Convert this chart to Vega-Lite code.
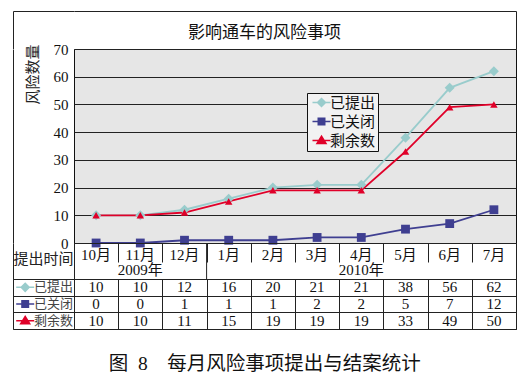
{
  "$schema": "https://vega.github.io/schema/vega-lite/v6.json",
  "padding": {"left": 12, "top": 11, "right": 5, "bottom": 5},
  "datasets": {
    "d": [
      {"month": "10月", "series": "已提出", "value": 10},
      {"month": "11月", "series": "已提出", "value": 10},
      {"month": "12月", "series": "已提出", "value": 12},
      {"month": "1月", "series": "已提出", "value": 16},
      {"month": "2月", "series": "已提出", "value": 20},
      {"month": "3月", "series": "已提出", "value": 21},
      {"month": "4月", "series": "已提出", "value": 21},
      {"month": "5月", "series": "已提出", "value": 38},
      {"month": "6月", "series": "已提出", "value": 56},
      {"month": "7月", "series": "已提出", "value": 62},
      {"month": "10月", "series": "已关闭", "value": 0},
      {"month": "11月", "series": "已关闭", "value": 0},
      {"month": "12月", "series": "已关闭", "value": 1},
      {"month": "1月", "series": "已关闭", "value": 1},
      {"month": "2月", "series": "已关闭", "value": 1},
      {"month": "3月", "series": "已关闭", "value": 2},
      {"month": "4月", "series": "已关闭", "value": 2},
      {"month": "5月", "series": "已关闭", "value": 5},
      {"month": "6月", "series": "已关闭", "value": 7},
      {"month": "7月", "series": "已关闭", "value": 12},
      {"month": "10月", "series": "剩余数", "value": 10},
      {"month": "11月", "series": "剩余数", "value": 10},
      {"month": "12月", "series": "剩余数", "value": 11},
      {"month": "1月", "series": "剩余数", "value": 15},
      {"month": "2月", "series": "剩余数", "value": 19},
      {"month": "3月", "series": "剩余数", "value": 19},
      {"month": "4月", "series": "剩余数", "value": 19},
      {"month": "5月", "series": "剩余数", "value": 33},
      {"month": "6月", "series": "剩余数", "value": 49},
      {"month": "7月", "series": "剩余数", "value": 50}
    ],
    "months": [
      {"month": "10月"}, {"month": "11月"}, {"month": "12月"}, {"month": "1月"}, {"month": "2月"},
      {"month": "3月"}, {"month": "4月"}, {"month": "5月"}, {"month": "6月"}, {"month": "7月"}
    ],
    "years": [
      {"month": "11月", "year": "2009年"},
      {"month": "4月", "year": "2010年"}
    ]
  },
  "title": {
    "text": "图\u20028\u3000每月风险事项提出与结案统计",
    "orient": "bottom",
    "anchor": "middle",
    "fontSize": 19.5,
    "fontWeight": "normal",
    "color": "#111",
    "offset": 25
  },
  "spacing": 0,
  "bounds": "flush",
  "columns": 2,
  "concat": [
    {
      "width": 61,
      "height": 37.5,
      "data": {"values": [{"t": "a"}]},
      "mark": {"type": "point", "opacity": 0},
      "encoding": {
        "x": {"field": "t", "type": "nominal", "axis": {"orient": "top", "domain": true, "domainColor": "#222", "labels": false, "ticks": false, "grid": false, "title": null}},
        "y": {"field": "t", "type": "nominal", "axis": {"orient": "left", "domain": true, "domainColor": "#222", "labels": false, "ticks": false, "grid": false, "title": null}}
      }
    },
    {
      "width": 442,
      "height": 37.5,
      "data": {"values": [{"t": "影响通车的风险事项"}]},
      "mark": {"type": "text", "fontSize": 17, "dy": 3, "dx": -30.5, "color": "#111"},
      "encoding": {
        "text": {"field": "t"},
        "x": {"field": "t", "type": "nominal", "axis": {"orient": "top", "domain": true, "domainColor": "#222", "labels": false, "ticks": false, "grid": false, "title": null}},
        "y": {"field": "t", "type": "nominal", "axis": {"orient": "right", "domain": true, "domainColor": "#222", "labels": false, "ticks": false, "grid": false, "title": null}}
      }
    },
    {
      "width": 61,
      "height": 194,
      "data": {"values": [{"v": 0}]},
      "mark": {"type": "point", "opacity": 0},
      "encoding": {
        "y": {"field": "v", "type": "quantitative", "axis": {"domain": true, "domainColor": "#222", "labels": false, "ticks": false, "grid": false, "title": null}}
      }
    },
    {
      "width": 442,
      "height": 194,
      "view": {"fill": "#e6e6e6", "stroke": "#111"},
      "data": {"name": "d"},
      "encoding": {
        "x": {"field": "month", "type": "nominal", "scale": {"type": "point", "padding": 0.5, "domain": ["10月", "11月", "12月", "1月", "2月", "3月", "4月", "5月", "6月", "7月"]}, "axis": null},
        "y": {
          "field": "value", "type": "quantitative",
          "scale": {"domain": [0, 70], "nice": false},
          "axis": {
            "values": [0, 10, 20, 30, 40, 50, 60, 70],
            "grid": true, "gridColor": "#222", "gridWidth": 1,
            "domain": false, "ticks": false,
            "labelFontSize": 15, "labelColor": "#111", "labelPadding": 6,
            "title": "风险数量", "titleFontSize": 15, "titleFontWeight": "normal", "titleColor": "#222",
            "titleAnchor": "end", "titlePadding": 13, "titleY": -5
          }
        }
      },
      "layer": [
        {
          "mark": {"type": "line", "strokeWidth": 1.8},
          "encoding": {
            "color": {"field": "series", "type": "nominal", "scale": {"domain": ["已提出", "已关闭", "剩余数"], "range": ["#99cccc", "#3f3f91", "#e00029"]}, "legend": null}
          }
        },
        {
          "mark": {"type": "point", "filled": true, "opacity": 1},
          "encoding": {
            "color": {"field": "series", "type": "nominal", "scale": {"domain": ["已提出", "已关闭", "剩余数"], "range": ["#99cccc", "#3f3f91", "#e00029"]}, "legend": null},
            "shape": {"field": "series", "type": "nominal", "scale": {"domain": ["已提出", "已关闭", "剩余数"], "range": ["diamond", "square", "triangle-up"]}, "legend": null},
            "size": {"field": "series", "type": "nominal", "scale": {"domain": ["已提出", "已关闭", "剩余数"], "range": [100, 56, 90]}, "legend": null}
          }
        },
        {
          "transform": [{"filter": "datum.value < 0"}],
          "mark": {"type": "point", "filled": true, "strokeWidth": 1.5, "opacity": 1},
          "encoding": {
            "color": {
              "field": "series", "type": "nominal",
              "scale": {"domain": ["已提出", "已关闭", "剩余数"], "range": ["#99cccc", "#3f3f91", "#e00029"]},
              "legend": {
                "orient": "none", "legendX": 233, "legendY": 44, "title": null,
                "padding": 2, "rowPadding": 3, "symbolSize": 100, "symbolOffset": 5, "labelOffset": 1,
                "labelFontSize": 15, "labelColor": "#111", "strokeColor": "#111", "fillColor": "#f2f2f2",
                "symbolStrokeWidth": 1.5
              }
            },
            "stroke": {"field": "series", "type": "nominal", "scale": {"domain": ["已提出", "已关闭", "剩余数"], "range": ["#99cccc", "#3f3f91", "#e00029"]}},
            "shape": {"field": "series", "type": "nominal", "scale": {"domain": ["已提出", "已关闭", "剩余数"], "range": ["M-1.8,0H1.8M0,-0.8L0.8,0L0,0.8L-0.8,0Z", "M-1.8,0H1.8M-0.65,-0.65H0.65V0.65H-0.65Z", "M-1.8,0H1.8M0,-0.85L0.9,0.6H-0.9Z"]}}
          }
        }
      ],
      "resolve": {"scale": {"color": "independent", "shape": "independent", "stroke": "independent", "size": "independent"}}
    },
    {
      "width": 61,
      "height": 36,
      "data": {"values": [{"t": "提出时间"}]},
      "mark": {"type": "text", "fontSize": 15, "dy": -2, "color": "#222"},
      "encoding": {
        "text": {"field": "t"},
        "x": {"field": "t", "type": "nominal", "axis": {"orient": "bottom", "domain": true, "domainColor": "#222", "labels": false, "ticks": false, "grid": false, "title": null}},
        "y": {"field": "t", "type": "nominal", "axis": {"orient": "left", "domain": true, "domainColor": "#222", "labels": false, "ticks": false, "grid": false, "title": null}}
      }
    },
    {
      "width": 442,
      "height": 36,
      "view": {"stroke": "#222"},
      "encoding": {
        "x": {
          "field": "month", "type": "nominal",
          "scale": {"type": "band", "domain": ["10月", "11月", "12月", "1月", "2月", "3月", "4月", "5月", "6月", "7月"], "paddingInner": 0, "paddingOuter": 0},
          "axis": {"orient": "top", "labels": false, "domain": false, "ticks": true, "tickBand": "extent", "tickSize": -19, "tickColor": "#222", "grid": false, "title": null}
        }
      },
      "layer": [
        {
          "data": {"name": "months"},
          "mark": {"type": "text", "fontSize": 15, "dy": 3, "color": "#111"},
          "encoding": {
            "y": {"datum": "m", "type": "nominal", "scale": {"type": "band", "domain": ["m", "y"], "paddingInner": 0, "paddingOuter": 0}, "axis": null},
            "text": {"field": "month"}
          }
        },
        {
          "data": {"name": "years"},
          "mark": {"type": "text", "fontSize": 15, "color": "#111"},
          "encoding": {
            "y": {"datum": "y", "type": "nominal", "scale": {"type": "band", "domain": ["m", "y"], "paddingInner": 0, "paddingOuter": 0}, "axis": null},
            "text": {"field": "year"}
          }
        },
        {
          "data": {"values": [{"month": "1月"}]},
          "mark": {"type": "rule", "color": "#222"},
          "encoding": {
            "x": {"field": "month", "type": "nominal", "bandPosition": 0}
          }
        }
      ]
    },
    {
      "width": 61,
      "height": 50,
      "view": {"stroke": "#222"},
      "data": {"values": [{"series": "已提出"}, {"series": "已关闭"}, {"series": "剩余数"}]},
      "encoding": {
        "y": {
          "field": "series", "type": "nominal",
          "scale": {"type": "band", "domain": ["已提出", "已关闭", "剩余数"], "paddingInner": 0, "paddingOuter": 0},
          "axis": {"grid": true, "tickBand": "extent", "gridColor": "#222", "labels": false, "ticks": false, "domain": false, "title": null}
        }
      },
      "layer": [
        {
          "mark": {"type": "point", "filled": true, "strokeWidth": 1.5, "size": 100, "opacity": 1},
          "encoding": {
            "x": {"datum": "sym", "type": "nominal", "bandPosition": 0.4, "scale": {"type": "band", "domain": ["sym", "lab"], "paddingInner": 0, "paddingOuter": 0}, "axis": null},
            "color": {"field": "series", "type": "nominal", "scale": {"domain": ["已提出", "已关闭", "剩余数"], "range": ["#99cccc", "#3f3f91", "#e00029"]}, "legend": null},
            "stroke": {"field": "series", "type": "nominal", "scale": {"domain": ["已提出", "已关闭", "剩余数"], "range": ["#99cccc", "#3f3f91", "#e00029"]}, "legend": null},
            "shape": {"field": "series", "type": "nominal", "scale": {"domain": ["已提出", "已关闭", "剩余数"], "range": ["M-1.8,0H1.8M0,-0.8L0.8,0L0,0.8L-0.8,0Z", "M-1.8,0H1.8M-0.65,-0.65H0.65V0.65H-0.65Z", "M-1.8,0H1.8M0,-0.85L0.9,0.6H-0.9Z"]}, "legend": null}
          }
        },
        {
          "mark": {"type": "text", "align": "right", "dx": -1, "fontSize": 13, "color": "#444"},
          "encoding": {
            "x": {"datum": "lab", "type": "nominal", "bandPosition": 1, "scale": {"type": "band", "domain": ["sym", "lab"], "paddingInner": 0, "paddingOuter": 0}, "axis": null},
            "text": {"field": "series"}
          }
        }
      ]
    },
    {
      "width": 442,
      "height": 50,
      "view": {"stroke": "#222"},
      "data": {"name": "d"},
      "mark": {"type": "text", "fontSize": 15, "color": "#111"},
      "encoding": {
        "x": {
          "field": "month", "type": "nominal",
          "scale": {"type": "band", "domain": ["10月", "11月", "12月", "1月", "2月", "3月", "4月", "5月", "6月", "7月"], "paddingInner": 0, "paddingOuter": 0},
          "axis": {"orient": "top", "grid": true, "tickBand": "extent", "gridColor": "#222", "labels": false, "ticks": false, "domain": false, "title": null}
        },
        "y": {
          "field": "series", "type": "nominal",
          "scale": {"type": "band", "domain": ["已提出", "已关闭", "剩余数"], "paddingInner": 0, "paddingOuter": 0},
          "axis": {"grid": true, "tickBand": "extent", "gridColor": "#222", "labels": false, "ticks": false, "domain": false, "title": null}
        },
        "text": {"field": "value", "type": "quantitative"}
      }
    }
  ],
  "config": {
    "font": "Liberation Serif, Noto Sans CJK SC",
    "view": {"stroke": null},
    "axis": {"labelFont": "Liberation Serif, Noto Sans CJK SC", "titleFont": "Liberation Serif, Noto Sans CJK SC"},
    "legend": {"labelFont": "Liberation Serif, Noto Sans CJK SC"},
    "title": {"font": "Liberation Serif, Noto Sans CJK SC"}
  }
}
